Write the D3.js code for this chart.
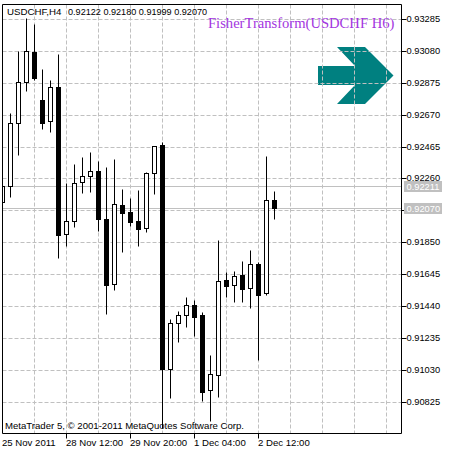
<!DOCTYPE html>
<html>
<head>
<meta charset="utf-8">
<style>
  html, body { margin: 0; padding: 0; background: #fff; }
  svg { display: block; }
  text { font-family: "Liberation Sans", Arial, sans-serif; font-size: 9.6px; fill: #000; }
</style>
</head>
<body>
<svg></svg>
<script src="https://cdn.jsdelivr.net/npm/d3@7"></script>
<script>
const opens = [0.92110, 0.92212, 0.92617, 0.92880, 0.93073, 0.92765, 0.92630, 0.92848, 0.91905, 0.91988, 0.92238, 0.92276, 0.92309, 0.92001, 0.91583, 0.92090, 0.92046, 0.91988, 0.91943, 0.92295, 0.92476, 0.91037, 0.91333, 0.91384, 0.91448, 0.91384, 0.90902, 0.90998, 0.91609, 0.91577, 0.91641, 0.91558, 0.91712, 0.91526, 0.92122];
const highs = [0.92212, 0.92681, 0.93079, 0.93291, 0.93253, 0.92964, 0.92893, 0.93060, 0.92231, 0.92354, 0.92399, 0.92431, 0.92373, 0.92335, 0.92386, 0.92193, 0.92135, 0.92187, 0.92302, 0.92469, 0.92495, 0.91358, 0.91409, 0.91500, 0.91480, 0.91403, 0.91127, 0.91865, 0.91660, 0.91667, 0.91731, 0.91801, 0.91724, 0.92405, 0.92180];
const lows = [0.92110, 0.92142, 0.92412, 0.92823, 0.92893, 0.92578, 0.92559, 0.91750, 0.91827, 0.91949, 0.92167, 0.92174, 0.91924, 0.91390, 0.91545, 0.91788, 0.91956, 0.91827, 0.91917, 0.92161, 0.90658, 0.90851, 0.91211, 0.91307, 0.91249, 0.90832, 0.90704, 0.90857, 0.91500, 0.91467, 0.91467, 0.91429, 0.91095, 0.91513, 0.91999];
const closes = [0.92212, 0.92617, 0.92880, 0.93079, 0.92906, 0.92617, 0.92848, 0.91898, 0.91988, 0.92231, 0.92276, 0.92309, 0.92001, 0.91577, 0.92097, 0.92039, 0.91982, 0.91937, 0.92295, 0.92469, 0.91037, 0.91333, 0.91384, 0.91448, 0.91371, 0.90889, 0.91005, 0.91603, 0.91571, 0.91635, 0.91551, 0.91712, 0.91513, 0.92122, 0.92070];

const priceTicks = [0.93285, 0.9308, 0.92875, 0.9267, 0.92465, 0.9226, 0.92055, 0.9185, 0.91645, 0.9144, 0.91235, 0.9103, 0.90825];
// this one has a tick and a grid line but its label is hidden behind the price tag
const hiddenLabel = 0.92055;
const timeTickIndex = [0, 8, 16, 24, 32];
const timeTickLabels = ['25 Nov 2011', '28 Nov 12:00', '29 Nov 20:00', '1 Dec 04:00', '2 Dec 12:00'];
const gridIndex = [4, 8, 12, 16, 20, 24, 28, 32, 36, 40, 44, 48];
const priceLines = [0.92211, 0.9207];

const width = 454;
const height = 454;
const left = 2.5;
const right = 401.5;
const top_ = 4.5;
const bottom = 433.5;

const svg = d3.select('svg').attr('width', width).attr('height', height);

const xScale = d3.scaleLinear().domain([0, 34]).range([2.5, 274.5]);
const yScale = d3.scaleLinear().domain([0.93285, 0.90825]).range([19.4, 402.4]);
// keep lines on whole pixels like the terminal does
const snapY = (v) => Math.floor(yScale(v)) + 0.5;

svg
  .append('defs')
  .append('clipPath')
  .attr('id', 'plot')
  .append('rect')
  .attr('x', left)
  .attr('y', top_)
  .attr('width', right - left)
  .attr('height', bottom - top_);

// arrow sits under the grid
svg
  .append('path')
  .attr('d', 'M318,66H355L337,47H365L393.5,75.5L365,104H337L355,85H318Z')
  .attr('fill', '#008080');

const grid = svg.append('g').attr('stroke', '#c0c0c0').attr('stroke-dasharray', '4 2');

grid
  .selectAll('.h')
  .data(priceTicks)
  .enter()
  .append('line')
  .attr('class', 'h')
  .attr('x1', left)
  .attr('x2', right)
  .attr('y1', snapY)
  .attr('y2', snapY);

grid
  .selectAll('.v')
  .data(gridIndex)
  .enter()
  .append('line')
  .attr('class', 'v')
  .attr('x1', (d) => xScale(d))
  .attr('x2', (d) => xScale(d))
  .attr('y1', top_)
  .attr('y2', bottom);

svg
  .append('g')
  .selectAll('line')
  .data(priceLines)
  .enter()
  .append('line')
  .attr('x1', left)
  .attr('x2', right)
  .attr('y1', snapY)
  .attr('y2', snapY)
  .attr('stroke', '#c0c0c0');

svg
  .append('text')
  .attr('x', 208)
  .attr('y', 28)
  .style('font-family', '"Liberation Serif", serif')
  .style('font-size', '14.6px')
  .style('fill', '#a335e0')
  .text('FisherTransform(USDCHF H6)');

const candles = svg
  .append('g')
  .attr('clip-path', 'url(#plot)')
  .selectAll('g')
  .data(opens)
  .enter()
  .append('g');

candles
  .append('line')
  .attr('x1', (d, i) => xScale(i))
  .attr('x2', (d, i) => xScale(i))
  .attr('y1', (d, i) => snapY(highs[i]))
  .attr('y2', (d, i) => snapY(lows[i]))
  .attr('stroke', '#000');

candles
  .append('rect')
  .attr('x', (d, i) => xScale(i) - 2)
  .attr('width', 4)
  .attr('y', (d, i) => snapY(Math.max(opens[i], closes[i])))
  .attr('height', (d, i) => snapY(Math.min(opens[i], closes[i])) - snapY(Math.max(opens[i], closes[i])))
  .attr('fill', (d, i) => (closes[i] >= opens[i] ? '#fff' : '#000'))
  .attr('stroke', '#000');

svg
  .append('path')
  .attr('d', `M${left},${bottom}V${top_}H${right}V${bottom}Z`)
  .attr('fill', 'none')
  .attr('stroke', '#000');

const yAxis = d3
  .axisRight(yScale)
  .tickValues(priceTicks)
  .tickFormat(d3.format('.5f'))
  .tickSize(5)
  .tickPadding(0)
  .offset(0);

const yAxisG = svg.append('g').attr('transform', `translate(${right}, 0)`).call(yAxis);
yAxisG.select('.domain').remove();
yAxisG.selectAll('.tick').attr('transform', (d) => `translate(0, ${snapY(d)})`);
yAxisG.selectAll('.tick line').attr('stroke', '#000');
yAxisG.selectAll('.tick text').style('font-size', '9.3px');
yAxisG.selectAll('.tick text').filter((d) => d === hiddenLabel).remove();

const xAxis = d3
  .axisBottom(xScale)
  .tickValues(timeTickIndex)
  .tickFormat((d, i) => timeTickLabels[i])
  .tickSize(5)
  .offset(0);

const xAxisG = svg.append('g').attr('transform', `translate(0, ${bottom})`).call(xAxis);
xAxisG.select('.domain').remove();
xAxisG.selectAll('.tick text').attr('text-anchor', 'start').attr('x', -0.5).attr('y', 6).attr('dy', '0.71em');
xAxisG.selectAll('.tick line').filter((d) => d === 0).remove();

// last price tags cover the axis labels
const tags = svg.append('g').selectAll('g').data(priceLines).enter().append('g');

tags
  .append('rect')
  .attr('x', 404)
  .attr('y', (d) => snapY(d) - 5.5)
  .attr('width', 38)
  .attr('height', 11)
  .attr('fill', '#c0c0c0');

tags
  .append('text')
  .attr('x', 406.5)
  .attr('y', (d) => snapY(d) + 3.5)
  .style('fill', '#fff')
  .style('font-size', '9.3px')
  .text((d) => d3.format('.5f')(d));

svg
  .append('text')
  .attr('x', 7)
  .attr('y', 15)
  .style('font-size', '9.7px')
  .text('USDCHF,H4');

svg
  .append('text')
  .attr('x', 68)
  .attr('y', 15)
  .style('font-size', '9.1px')
  .text('0.92122 0.92180 0.91999 0.92070');

svg
  .append('text')
  .attr('x', 5)
  .attr('y', 429)
  .text('MetaTrader 5, © 2001-2011 MetaQuotes Software Corp.');
</script>
</body>
</html>
